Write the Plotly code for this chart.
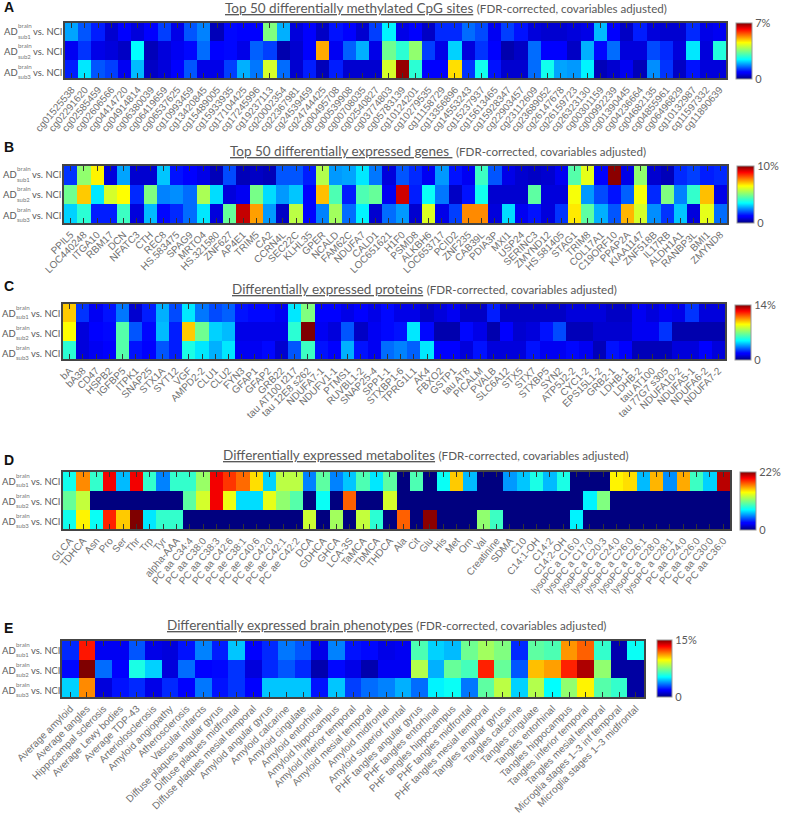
import numpy as np
import plotly.graph_objects as go

W, H = 785, 814

cpg_labels = "cg01525538 cg02291620 cg02585459 cg02606566 cg04414720 cg04914814 cg06380039 cg06419659 cg06537625 cg10993459 cg13420845 cg15489005 cg15933935 cg17104425 cg17245996 cg19237113 cg20002354 cg22367981 cg24539459 cg24744425 cg00495708 cg00539908 cg00708035 cg02540827 cg03774803 cg05783139 cg10124201 cg10279535 cg11158729 cg13356896 cg14553243 cg15237937 cg15613465 cg15928347 cg22903457 cg23112609 cg23689052 cg26147678 cg26159723 cg26323130 cg00301159 cg00992239 cg01390445 cg04236664 cg04682135 cg04855961 cg06496829 cg10132987 cg11597332 cg11890639".split()
cpg_sub1 = [27,20,15,7,11,8,11,18,9,20,24,5,13,11,11,50,28,8,11,6,14,11,7,18,34,9,12,6,16,16,22,19,10,18,14,8,7,7,8,9,29,11,6,15,8,7,7,16,9,10]
cpg_sub2 = [10,17,9,8,6,35,5,8,10,13,22,12,13,9,21,18,4,7,12,73,10,21,28,9,48,40,52,18,9,31,8,17,12,4,6,22,11,12,6,28,13,22,8,8,19,16,8,33,8,39]
cpg_sub3 = [15,33,20,18,10,29,6,8,12,20,9,9,18,28,23,60,22,7,15,5,15,7,7,7,60,98,40,11,12,68,17,37,14,7,7,22,37,27,26,34,5,7,10,5,25,17,6,14,8,8]

gene_labels = "PPIL5 LOC440248 ITGA10 RBM17 DCN NFATC3 CTH REC8 HS.583475 SPAG9 MRTO4 HS.321580 ZNF627 AP4E1 TRIM5 CA2 CCRN4L SEC22C KLHL35 GPER NCALD FAM62C NDUFA7 CALD1 LOC651621 H1F0 PSMD8 ALKBH6 LOC653717 PCID2 ZNF235 CAB39L PDIA3P MXI1 USP24 SERINC3 ZMYND12 HS.581405 STAG1 TRIM8 COL17A1 C19ORF10 PPAP2A KIAA1147 ZNF518B IL17RB ALDH1A1 RANBP3L BMI1 ZMYND8".split()
gene_sub1 = [17,52,66,8,27,7,7,30,14,12,9,5,19,5,6,5,20,20,15,56,26,27,33,23,8,20,16,10,26,14,10,42,20,9,7,6,7,10,45,62,11,99,9,52,7,5,16,18,15,16]
gene_sub2 = [48,70,33,60,65,16,50,24,25,22,55,32,8,10,49,32,26,30,12,71,44,15,44,47,10,93,15,36,23,6,14,37,7,7,7,46,8,8,64,26,19,14,21,64,16,50,24,41,71,9]
gene_sub3 = [31,40,15,15,42,8,29,13,16,22,33,8,47,94,74,26,6,57,11,24,54,22,34,7,22,26,7,61,9,18,76,76,8,32,10,14,8,17,67,46,28,20,72,60,25,17,30,8,62,22]

protein_labels = ["bA","bA38","CD47","HSPB2","IGFBP5","ITPK1","SNAP25","STX1A","SYT12","VGF","AMPD2-2","CLU1","CLU2","FYN3","GFAP1","GFAP2","GRB22","tau AT100 t217","tau 12E8 s262","NDUFA7-1","NDUFV1-1","PTMS1","RUVBL1-2","SNAP25-4","SPP1-1","STXBP1-6","TPRG1L1","AK4","FBXO2","GSTP1","tau AT8","PICALM","PVALB","SLC6A12","STX5","STX7","STXBP5","SYN2","ATP5J2-2","CYC1-2","EPS15L1-2","GRB2-1","LDHB-1","LDHB-2","tau AT100","tau 77G7 s305","NDUFA10-2","NDUFA5-1","NDUFA6-2","NDUFA7-2"]
protein_sub1 = [70,17,10,14,23,7,15,28,19,33,23,19,21,14,13,13,10,33,50,12,12,9,11,9,13,9,9,6,8,10,6,6,15,6,6,6,6,6,8,8,8,6,6,10,8,10,9,17,8,8]
protein_sub2 = [65,8,12,13,45,20,13,29,15,70,48,31,29,9,9,9,9,40,100,10,8,20,6,10,13,14,33,13,4,4,13,9,4,12,7,8,14,19,5,5,7,7,7,10,10,17,4,4,4,4]
protein_sub3 = [40,8,10,11,45,14,12,20,15,38,33,28,33,10,10,13,7,20,42,14,11,28,14,10,22,24,21,33,11,11,8,14,8,8,8,14,10,10,13,10,5,14,12,5,5,5,8,8,11,8]

metabolite_labels = ["GLCA","TDHCA","Asn","Pro","Ser","Thr","Trp","Tyr","alpha-AAA","PC aa C34:4","PC aa C38:0","PC aa C38:3","PC aa C42:6","PC ae C38:1","PC ae C40:6","PC ae C42:0","PC ae C42:1","PC ae C42:2","DCA","GDHCA","GHCA","LCA-3S","TaMCA","TbMCA","THDCA","Ala","Cit","Glu","His","Met","Orn","Val","Creatinine","SDMA","C10","C14:1-OH","C14:2","C14:2-OH","lysoPC a C16:0","lysoPC a C17:0","lysoPC a C20:3","lysoPC a C24:0","lysoPC a C26:0","lysoPC a C26:1","lysoPC a C28:0","lysoPC a C28:1","PC aa C24:0","PC aa C26:0","PC aa C30:0","PC aa C36:0"]
metabolite_sub1 = [37,76,41,90,29,90,41,24,41,41,53,90,84,79,68,31,57,57,24,46,24,30,44,33,46,0,44,0,36,70,29,0,0,26,30,38,29,38,0,0,0,66,68,29,72,25,73,42,31,95]
metabolite_sub2 = [47,58,0,0,0,0,0,0,0,46,60,90,63,32,32,62,52,45,0,36,0,80,0,0,60,0,0,0,0,0,0,0,0,0,0,0,0,0,0,34,50,0,0,0,0,0,0,0,0,0]
metabolite_sub3 = [37,66,36,86,70,100,33,41,41,0,0,0,0,0,0,0,0,0,59,0,54,0,58,40,0,80,0,99,0,0,0,52,42,0,0,0,0,0,34,0,0,0,0,0,0,0,0,0,0,0]

phenotype_labels = ["Average amyloid","Average tangles","Hippocampal sclerosis","Average Lewy bodies","Average TDP-43","Arteriolosclerosis","Amyloid angiopathy","Atherosclerosis","Vascular infarcts","Diffuse plaques angular gyrus","Diffuse plaques midfrontal","Diffuse plaques mesial temporal","Amyloid angular gyrus","Amyloid calcarine","Amyloid cingulate","Amyloid entorhinal","Amyloid hippocampus","Amyloid inferior temporal","Amyloid mesial temporal","Amyloid midfrontal","Amyloid superior frontal","PHF tangles angular gyrus","PHF tangles entorhinal","PHF tangles hippocampus","PHF tangles midfrontal","PHF tangles mesial temporal","Tangles angular gyrus","Tangles calcarine","Tangles cingulate","Tangles entorhinal","Tangles hippocampus","Tangles inferior temporal","Tangles mesial temporal","Microglia stages 1–3 inf temporal","Microglia stages 1–3 midfrontal"]
phenotype_sub1 = [16,87,10,10,20,9,8,14,24,15,30,12,16,23,20,9,24,14,13,9,10,44,31,29,48,54,50,16,46,44,75,80,41,4,36]
phenotype_sub2 = [13,100,22,11,38,31,8,22,11,13,17,8,16,20,16,4,13,9,4,10,10,56,28,47,43,86,47,20,71,74,86,96,52,3,3]
phenotype_sub3 = [31,76,8,14,16,9,16,12,23,14,17,11,30,30,30,14,30,18,22,24,28,22,34,36,23,46,57,31,56,35,52,66,45,41,3]

row_names = ["sub1", "sub2", "sub3"]
colorbar_max = [7, 10, 14, 22, 15]
main_titles = ["Top 50 differentially methylated CpG sites", "Top 50 differentially expressed genes ", "Differentially expressed proteins", "Differentially expressed metabolites", "Differentially expressed brain phenotypes"]
sub_title = "(FDR-corrected, covariables adjusted)"
panel_letters = ["A", "B", "C", "D", "E"]

jet = [[0, "rgb(0,0,127)"], [0.11, "rgb(0,0,255)"], [0.125, "rgb(0,0,255)"], [0.35, "rgb(0,255,255)"],
       [0.65, "rgb(255,255,0)"], [0.89, "rgb(255,0,0)"], [1, "rgb(127,0,0)"]]

# layout in pixels: heat-map box (l, r, t, b), colour bar (l, r, t, b), title (x, y), letter y, row-label left, tick angle
panels = [
    dict(lab=cpg_labels, rows=[cpg_sub1, cpg_sub2, cpg_sub3], box=(65,726,23,78), cb=(736,752,23,79), tt=(224,8), ly=7, rl=3, ang=-50, fs=10),
    dict(lab=gene_labels, rows=[gene_sub1, gene_sub2, gene_sub3], box=(64,727,166,223), cb=(737,754,166,223), tt=(229,151), ly=147, rl=2, ang=-45, fs=10),
    dict(lab=protein_labels, rows=[protein_sub1, protein_sub2, protein_sub3], box=(63,725,304,359), cb=(735,751,305,360), tt=(231,289), ly=286, rl=1, ang=-45, fs=10),
    dict(lab=metabolite_labels, rows=[metabolite_sub1, metabolite_sub2, metabolite_sub3], box=(63,730,472,529), cb=(740,756,472,530), tt=(222,455), ly=460, rl=1, ang=-50, fs=10),
    dict(lab=phenotype_labels, rows=[phenotype_sub1, phenotype_sub2, phenotype_sub3], box=(62,644,641,697), cb=(657,672,640,697), tt=(166,625), ly=628, rl=1, ang=-45, fs=10),
]

TXT = "#595959"
fig = go.Figure()
ann = []
def note(x, y, text, size, color=TXT, family="Lato", anchor="left"):
    ann.append(dict(xref="paper", yref="paper", x=x / W, y=1 - y / H, text=text, showarrow=False,
                    xanchor=anchor, yanchor="middle", align=anchor, borderpad=0,
                    font=dict(size=size, color=color, family=family)))

layout_axes = {}
for i, p in enumerate(panels):
    n = "" if i == 0 else str(i + 1)
    l, r, t, b = p["box"]
    vmax = colorbar_max[i]
    z = np.array(p["rows"], dtype=float) * vmax / 100
    cl, cr, ct, cb = p["cb"]
    fig.add_trace(go.Heatmap(
        z=z, x=p["lab"], y=row_names, xaxis="x" + n, yaxis="y" + n, colorscale=jet, zmin=0, zmax=vmax,
        xgap=0, ygap=0,
        colorbar=dict(x=cl / W, xanchor="left", y=1 - ct / H, yanchor="top", len=cb - ct, lenmode="pixels",
                      thickness=cr - cl, thicknessmode="pixels", xpad=0, ypad=0, ticks="", tickmode="array",
                      tickvals=[0, vmax], ticktext=["0", f"{vmax}%"], outlinecolor="#999999", outlinewidth=1,
                      tickfont=dict(family="Lato", size=11, color=TXT))))
    layout_axes["xaxis" + n] = dict(domain=[l / W, r / W], anchor="y" + n, tickmode="array", tickvals=p["lab"],
                                    ticktext=p["lab"], tickangle=p["ang"], ticks="inside", ticklen=5, tickwidth=1,
                                    tickcolor="#333333", mirror="allticks", showline=True, linecolor="#444444",
                                    linewidth=2, tickfont=dict(family="Liberation Sans", size=p["fs"], color="#707070"),
                                    showgrid=False, zeroline=False, automargin=False)
    layout_axes["yaxis" + n] = dict(domain=[1 - b / H, 1 - t / H], anchor="x" + n, autorange="reversed", showticklabels=False,
                                    ticks="", showline=True, mirror=True, linecolor="#444444", linewidth=2,
                                    showgrid=False, zeroline=False, automargin=False)
    # title
    tx, ty = p["tt"]
    note(tx, ty, f"<u>{main_titles[i]}</u> <span style='font-size:11.6px'>{sub_title}</span>", 13.5)
    note(3, p["ly"], f"<b>{panel_letters[i]}</b>", 14, color="#111111", family="Liberation Sans")
    # row labels
    x0 = p["rl"]
    for k, dy in enumerate([9, 29, 49.5]):
        yc = t + dy
        note(x0, yc, "AD", 9.5)
        note(x0 + 14, yc - 6, "brain", 6.2, color="#777777")
        note(x0 + 14, yc + 4, row_names[k], 6, color="#777777")
        note(x0 + 59.5, yc, "vs. NCI", 9.4, anchor="right")

fig.update_layout(width=W, height=H, margin=dict(l=0, r=0, t=0, b=0), paper_bgcolor="white", plot_bgcolor="white",
                  annotations=ann, showlegend=False, **layout_axes)
fig.write_html("out.html", post_script="document.body.style.margin='0';", config={"displayModeBar": False})
